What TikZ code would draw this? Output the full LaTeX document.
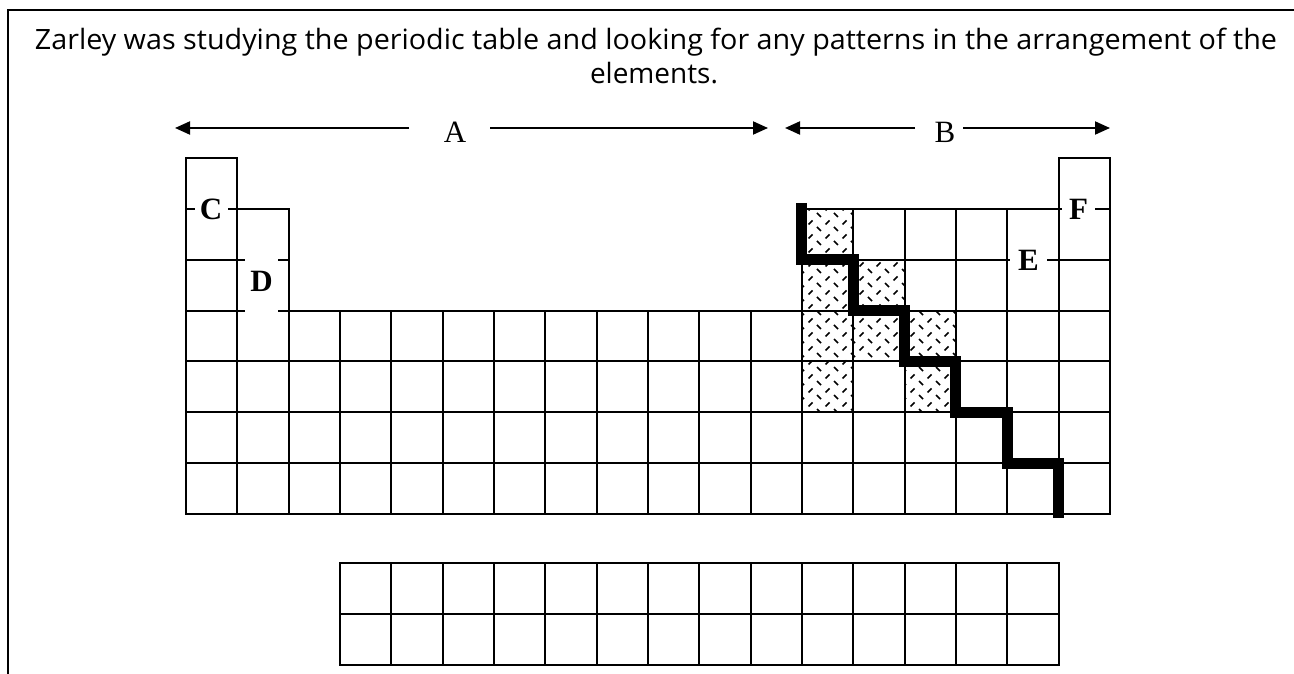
\documentclass[tikz,border=0pt]{standalone}
\usepackage{fontspec}
\setmainfont{Liberation Serif}
\newfontfamily\notefont{Open Sans}
\usetikzlibrary{arrows.meta,patterns}

% short crossed dashes for the shaded cells
\pgfdeclarepatternformonly{dashcross}{\pgfqpoint{-1pt}{-1pt}}{\pgfqpoint{18pt}{15pt}}{\pgfqpoint{17pt}{14pt}}{%
  \pgfsetlinewidth{1.6pt}%
  \pgfpathmoveto{\pgfqpoint{1pt}{13pt}}\pgfpathlineto{\pgfqpoint{5pt}{9pt}}%
  \pgfpathmoveto{\pgfqpoint{9.5pt}{1.5pt}}\pgfpathlineto{\pgfqpoint{13.5pt}{5.5pt}}%
  \pgfusepath{stroke}}

\newcommand\colw{51.33}
\newcommand\rowh{50.86}

\tikzset{
  cell/.style={line width=2pt},
  lab/.style={font=\fontsize{31}{33}\selectfont,inner sep=0pt},
  tag/.style={font=\fontsize{31}{33}\selectfont\bfseries,fill=white,inner sep=0pt,minimum height=26pt},
  arr/.style={line width=2pt,-{Triangle[length=15pt,width=13pt]}},
}

\begin{document}
\begin{tikzpicture}[x=1pt,y=-1pt]
\useasboundingbox (0,0) rectangle (1294,674);
\draw[line width=2pt] (8,674) -- (8,10) -- (1294,10);

% question text
\node[anchor=base] (note1) at (656,50) {\resizebox{1242pt}{\height}{\notefont\fontsize{28}{34}\selectfont Zarley was studying the periodic table and looking for any patterns in the arrangement of the}};
\node[anchor=base] (note2) at (654,84) {\resizebox{128pt}{\height}{\notefont\fontsize{28}{34}\selectfont elements.}};

% shaded cells
\foreach \c/\r in {12/1,12/2,13/2,12/3,13/3,14/3,12/4,14/4}
  \fill[pattern=dashcross] (186+\c*\colw,158+\r*\rowh) rectangle ++(\colw,\rowh);

% main table
\foreach \c in {0,17}
  \draw[cell] (186+\c*\colw,158) rectangle ++(\colw,\rowh);
\foreach \r in {1,2}
  \foreach \c in {0,1,12,13,...,17}
    \draw[cell] (186+\c*\colw,158+\r*\rowh) rectangle ++(\colw,\rowh);
\foreach \r in {3,...,6}
  \foreach \c in {0,...,17}
    \draw[cell] (186+\c*\colw,158+\r*\rowh) rectangle ++(\colw,\rowh);

% lower block
\foreach \r in {0,1}
  \foreach \c in {3,...,16}
    \draw[cell] (186+\c*\colw,563+\r*\rowh) rectangle ++(\colw,\rowh);

% metal / nonmetal staircase
\draw[line width=11pt,line join=miter]
  (186+12*\colw,203) |- (186+13*\colw,158+2*\rowh)
  |- (186+14*\colw,158+3*\rowh) |- (186+15*\colw,158+4*\rowh)
  |- (186+16*\colw,158+5*\rowh) |- (186+17*\colw,158+6*\rowh)
  -- (186+17*\colw,518);

% letters on the table
\node[tag,minimum width=33pt] (C) at (211,209) {C};
\node[tag,minimum width=33pt,minimum height=56pt,text depth=8pt] (D) at (261.5,285) {D};
\node[tag,minimum width=37pt] (E) at (1028.5,260) {E};
\node[tag,minimum width=33pt] (F) at (1078.5,209) {F};

% group arrows
\node[lab] (A) at (455,132.5) {A};
\coordinate (aL) at (175,128);
\coordinate (aR) at (768,128);
\draw[arr] ([shift={(-46,-4.5)}]A.center) -- (aL);
\draw[arr] ([shift={(35,-4.5)}]A.center) -- (aR);

\node[lab] (B) at (945,132.5) {B};
\coordinate (bL) at (785,128);
\coordinate (bR) at (1110,128);
\draw[arr] ([shift={(-30,-4.5)}]B.center) -- (bL);
\draw[arr] ([shift={(18,-4.5)}]B.center) -- (bR);
\end{tikzpicture}
\end{document}
